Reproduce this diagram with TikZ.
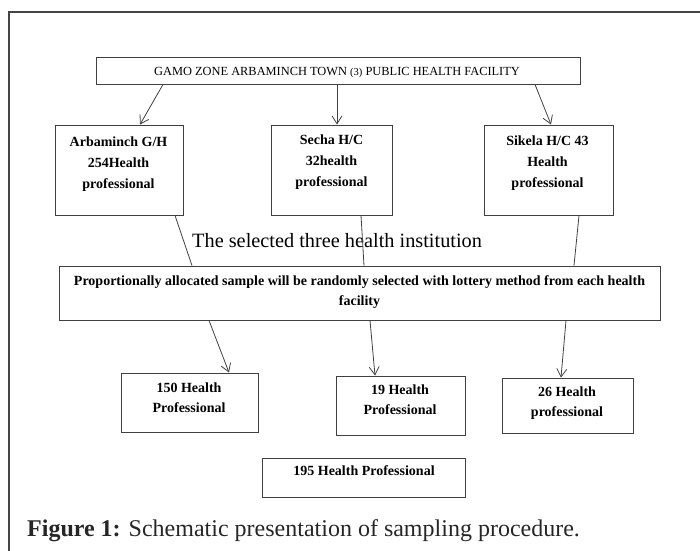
\documentclass[tikz,border=0pt]{standalone}
\usepackage{fontspec}
\setmainfont{Liberation Serif}
\usetikzlibrary{arrows.meta,calc}
\definecolor{boxgray}{HTML}{404040}
\definecolor{framegray}{HTML}{454545}
\tikzset{
  fbox/.style={draw=boxgray, line width=0.9pt, inner sep=0pt},
  btxt/.style={font=\bfseries\fontsize{14}{21}\selectfont, align=center, inner sep=0pt, anchor=north},
  ltxt/.style={font=\bfseries\fontsize{14}{20}\selectfont, align=center, inner sep=0pt, anchor=north},
  conn/.style={draw=boxgray, line width=0.8pt},
  arr/.style={conn, -{Straight Barb[length=8pt,width=10pt]}}
}
\begin{document}
\begin{tikzpicture}[x=1pt,y=-1pt]
\useasboundingbox (0,0) rectangle (700,550);
% outer frame
\draw[framegray, line width=1.5pt] (9,560) -- (9,12) -- (710,12);
% top box
\node[fbox, minimum width=484pt, minimum height=27pt] (top) at (338,70.5) {};
\node[font=\fontsize{12.4}{14}\selectfont, inner sep=0pt, anchor=base] (toptext) at (337,75) {GAMO ZONE ARBAMINCH TOWN {\fontsize{10.5}{12}\selectfont(3)} PUBLIC HEALTH FACILITY};
% three facility boxes
\node[fbox, minimum width=128pt, minimum height=90pt] (A) at (119,170) {};
\node[btxt] (At) at (118.5,137) {Arbaminch G/H\\254Health\\professional};
\node[fbox, minimum width=121pt, minimum height=90pt] (B) at (331.5,170) {};
\node[btxt] (Bt) at (331.5,135) {Secha H/C\\32health\\professional};
\node[fbox, minimum width=129pt, minimum height=90pt] (C) at (548.5,170) {};
\node[btxt] (Ct) at (547.5,136) {Sikela H/C 43\\Health\\professional};
% selected text
\node[font=\fontsize{20.3}{24}\selectfont, inner sep=0pt, anchor=base west] (sel) at (192,247) {The selected three health institution};
% proportional box
\node[fbox, minimum width=601pt, minimum height=54pt] (P) at (359.5,293) {};
\node[font=\bfseries\fontsize{14}{20}\selectfont, align=center, inner sep=0pt, anchor=north] (Pt) at (359.5,275.5) {Proportionally allocated sample will be randomly selected with lottery method from each health\\facility};
% lower boxes
\node[fbox, minimum width=137pt, minimum height=59pt] (L1) at (189.5,402.5) {};
\node[ltxt] (L1t) at (189,383) {150 Health\\Professional};
\node[fbox, minimum width=129pt, minimum height=59pt] (L2) at (400.5,405.5) {};
\node[ltxt] (L2t) at (400,385) {19 Health\\Professional};
\node[fbox, minimum width=131pt, minimum height=55pt] (L3) at (567.5,405.5) {};
\node[ltxt] (L3t) at (567,387) {26 Health\\professional};
\node[fbox, minimum width=203pt, minimum height=39pt] (T) at (363.5,477.5) {};
\node[ltxt] (Tt) at (364,465) {195 Health Professional};
% connectors
\draw[arr] ([xshift=-175pt]top.south) -- ([xshift=21pt]A.north);
\draw[arr] ([xshift=-1pt]top.south) -- ([xshift=5.5pt]B.north);
\draw[arr] ([xshift=197pt]top.south) -- ([xshift=2.5pt]C.north);
\draw[conn] ([xshift=56pt]A.south) -- ([xshift=-167.5pt]P.north);
\draw[conn] ([xshift=29.5pt]B.south) -- ([xshift=4.5pt]P.north);
\draw[conn] ([xshift=30.5pt]C.south) -- ([xshift=214.5pt]P.north);
\draw[arr] ([xshift=-150.5pt]P.south) -- ([xshift=39.5pt]L1.north);
\draw[arr] ([xshift=10.5pt]P.south) -- ([xshift=-25.5pt]L2.north);
\draw[arr] ([xshift=206.5pt]P.south) -- ([xshift=-6.5pt]L3.north);
% caption
\node[font=\fontsize{24}{28}\selectfont, inner sep=0pt, anchor=base west, text=black!85] (cap) at (27,536) {\textbf{Figure 1:} Schematic presentation of sampling procedure.};
\end{tikzpicture}
\end{document}
